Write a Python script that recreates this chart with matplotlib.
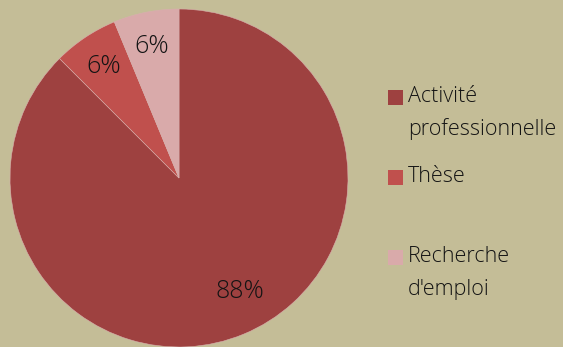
import matplotlib.pyplot as plt
from matplotlib.patches import Rectangle

# data
labels = ['Activité\nprofessionnelle', 'Thèse', "Recherche\nd'emploi"]
counts = [14, 1, 1]
colors = ['#9E4140', '#C0504D', '#D9AAAA']
# where the percentage labels sit (pie units)
pct_pos = [(0.36, -0.67), (-0.447, 0.657), (-0.16, 0.781)]

bg = '#C4BD97'
txt = '#141414'
W, H = 563, 347

fig = plt.figure(figsize=(W / 100, H / 100), dpi=100)
fig.patch.set_facecolor(bg)

cx, cy, r = 179, 178, 169
ax = fig.add_axes([(cx - r) / W, (H - cy - r) / H, 2 * r / W, 2 * r / H])
ax.set_facecolor(bg)
wedges, texts, autotexts = ax.pie(
    counts, colors=colors, startangle=90, counterclock=False,
    autopct=lambda p: '%.0f%%' % p,
    wedgeprops=dict(edgecolor='#D8B0AE', linewidth=0.4),
    textprops=dict(fontsize=18, color=txt, family='Open Sans', fontweight='light'))
for t, p in zip(autotexts, pct_pos):
    t.set_position(p)
ax.set_xlim(-1, 1)
ax.set_ylim(-1, 1)
ax.set_aspect('auto')
ax.axis('off')

# legend drawn by hand
leg_y = [97, 177, 257]
for lab, col, y in zip(labels, colors, leg_y):
    fig.patches.append(Rectangle((388 / W, 1 - (y + 7.5) / H), 15 / W, 15 / H,
                                 transform=fig.transFigure, facecolor=col,
                                 edgecolor='none'))
    for i, line in enumerate(lab.split('\n')):
        fig.text(408 / W, 1 - (y + i * 32) / H, line, fontsize=15.5, color=txt,
                 family='Open Sans', fontweight='light', va='center', ha='left')

fig.savefig('out.png', dpi=100, facecolor=bg)
